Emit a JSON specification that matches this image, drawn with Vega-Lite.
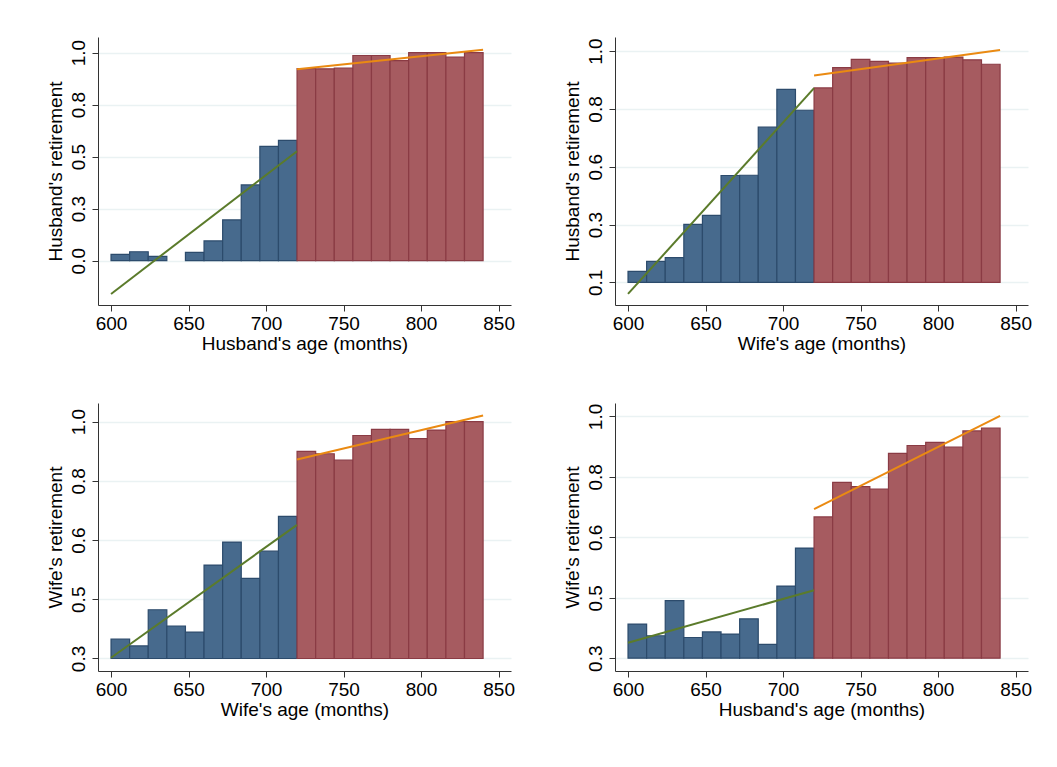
{
  "$schema": "https://vega.github.io/schema/vega-lite/v6.json",
  "background": "white",
  "padding": {"left": 46, "top": 37, "right": 10, "bottom": 10},
  "datasets": {
    "bars": [
      {"panel": 1, "age": 600, "end": 612, "val": 0.030, "side": "before"},
      {"panel": 1, "age": 612, "end": 624, "val": 0.043, "side": "before"},
      {"panel": 1, "age": 624, "end": 636, "val": 0.021, "side": "before"},
      {"panel": 1, "age": 648, "end": 660, "val": 0.040, "side": "before"},
      {"panel": 1, "age": 660, "end": 672, "val": 0.095, "side": "before"},
      {"panel": 1, "age": 672, "end": 684, "val": 0.196, "side": "before"},
      {"panel": 1, "age": 684, "end": 696, "val": 0.364, "side": "before"},
      {"panel": 1, "age": 696, "end": 708, "val": 0.549, "side": "before"},
      {"panel": 1, "age": 708, "end": 720, "val": 0.578, "side": "before"},
      {"panel": 1, "age": 720, "end": 732, "val": 0.923, "side": "after"},
      {"panel": 1, "age": 732, "end": 744, "val": 0.922, "side": "after"},
      {"panel": 1, "age": 744, "end": 756, "val": 0.925, "side": "after"},
      {"panel": 1, "age": 756, "end": 768, "val": 0.986, "side": "after"},
      {"panel": 1, "age": 768, "end": 780, "val": 0.986, "side": "after"},
      {"panel": 1, "age": 780, "end": 792, "val": 0.961, "side": "after"},
      {"panel": 1, "age": 792, "end": 804, "val": 1.0, "side": "after"},
      {"panel": 1, "age": 804, "end": 816, "val": 1.0, "side": "after"},
      {"panel": 1, "age": 816, "end": 828, "val": 0.979, "side": "after"},
      {"panel": 1, "age": 828, "end": 840, "val": 1.0, "side": "after"},

      {"panel": 2, "age": 600, "end": 612, "val": 0.143, "side": "before"},
      {"panel": 2, "age": 612, "end": 624, "val": 0.182, "side": "before"},
      {"panel": 2, "age": 624, "end": 636, "val": 0.196, "side": "before"},
      {"panel": 2, "age": 636, "end": 648, "val": 0.326, "side": "before"},
      {"panel": 2, "age": 648, "end": 660, "val": 0.361, "side": "before"},
      {"panel": 2, "age": 660, "end": 672, "val": 0.516, "side": "before"},
      {"panel": 2, "age": 672, "end": 684, "val": 0.517, "side": "before"},
      {"panel": 2, "age": 684, "end": 696, "val": 0.704, "side": "before"},
      {"panel": 2, "age": 696, "end": 708, "val": 0.851, "side": "before"},
      {"panel": 2, "age": 708, "end": 720, "val": 0.770, "side": "before"},
      {"panel": 2, "age": 720, "end": 732, "val": 0.857, "side": "after"},
      {"panel": 2, "age": 732, "end": 744, "val": 0.936, "side": "after"},
      {"panel": 2, "age": 744, "end": 756, "val": 0.968, "side": "after"},
      {"panel": 2, "age": 756, "end": 768, "val": 0.960, "side": "after"},
      {"panel": 2, "age": 768, "end": 780, "val": 0.953, "side": "after"},
      {"panel": 2, "age": 780, "end": 792, "val": 0.975, "side": "after"},
      {"panel": 2, "age": 792, "end": 804, "val": 0.975, "side": "after"},
      {"panel": 2, "age": 804, "end": 816, "val": 0.977, "side": "after"},
      {"panel": 2, "age": 816, "end": 828, "val": 0.966, "side": "after"},
      {"panel": 2, "age": 828, "end": 840, "val": 0.949, "side": "after"},

      {"panel": 3, "age": 600, "end": 612, "val": 0.357, "side": "before"},
      {"panel": 3, "age": 612, "end": 624, "val": 0.337, "side": "before"},
      {"panel": 3, "age": 624, "end": 636, "val": 0.444, "side": "before"},
      {"panel": 3, "age": 636, "end": 648, "val": 0.396, "side": "before"},
      {"panel": 3, "age": 648, "end": 660, "val": 0.378, "side": "before"},
      {"panel": 3, "age": 660, "end": 672, "val": 0.576, "side": "before"},
      {"panel": 3, "age": 672, "end": 684, "val": 0.644, "side": "before"},
      {"panel": 3, "age": 684, "end": 696, "val": 0.537, "side": "before"},
      {"panel": 3, "age": 696, "end": 708, "val": 0.617, "side": "before"},
      {"panel": 3, "age": 708, "end": 720, "val": 0.720, "side": "before"},
      {"panel": 3, "age": 720, "end": 732, "val": 0.912, "side": "after"},
      {"panel": 3, "age": 732, "end": 744, "val": 0.905, "side": "after"},
      {"panel": 3, "age": 744, "end": 756, "val": 0.886, "side": "after"},
      {"panel": 3, "age": 756, "end": 768, "val": 0.959, "side": "after"},
      {"panel": 3, "age": 768, "end": 780, "val": 0.977, "side": "after"},
      {"panel": 3, "age": 780, "end": 792, "val": 0.977, "side": "after"},
      {"panel": 3, "age": 792, "end": 804, "val": 0.950, "side": "after"},
      {"panel": 3, "age": 804, "end": 816, "val": 0.975, "side": "after"},
      {"panel": 3, "age": 816, "end": 828, "val": 1.0, "side": "after"},
      {"panel": 3, "age": 828, "end": 840, "val": 1.0, "side": "after"},

      {"panel": 4, "age": 600, "end": 612, "val": 0.399, "side": "before"},
      {"panel": 4, "age": 612, "end": 624, "val": 0.365, "side": "before"},
      {"panel": 4, "age": 624, "end": 636, "val": 0.467, "side": "before"},
      {"panel": 4, "age": 636, "end": 648, "val": 0.360, "side": "before"},
      {"panel": 4, "age": 648, "end": 660, "val": 0.376, "side": "before"},
      {"panel": 4, "age": 660, "end": 672, "val": 0.370, "side": "before"},
      {"panel": 4, "age": 672, "end": 684, "val": 0.414, "side": "before"},
      {"panel": 4, "age": 684, "end": 696, "val": 0.340, "side": "before"},
      {"panel": 4, "age": 696, "end": 708, "val": 0.509, "side": "before"},
      {"panel": 4, "age": 708, "end": 720, "val": 0.619, "side": "before"},
      {"panel": 4, "age": 720, "end": 732, "val": 0.709, "side": "after"},
      {"panel": 4, "age": 732, "end": 744, "val": 0.809, "side": "after"},
      {"panel": 4, "age": 744, "end": 756, "val": 0.797, "side": "after"},
      {"panel": 4, "age": 756, "end": 768, "val": 0.790, "side": "after"},
      {"panel": 4, "age": 768, "end": 780, "val": 0.893, "side": "after"},
      {"panel": 4, "age": 780, "end": 792, "val": 0.916, "side": "after"},
      {"panel": 4, "age": 792, "end": 804, "val": 0.925, "side": "after"},
      {"panel": 4, "age": 804, "end": 816, "val": 0.911, "side": "after"},
      {"panel": 4, "age": 816, "end": 828, "val": 0.958, "side": "after"},
      {"panel": 4, "age": 828, "end": 840, "val": 0.966, "side": "after"}
    ],
    "fits": [
      {"panel": 1, "side": "before", "age": 600, "val": -0.16},
      {"panel": 1, "side": "before", "age": 720, "val": 0.526},
      {"panel": 1, "side": "after", "age": 720, "val": 0.920},
      {"panel": 1, "side": "after", "age": 840, "val": 1.014},
      {"panel": 2, "side": "before", "age": 600, "val": 0.055},
      {"panel": 2, "side": "before", "age": 720, "val": 0.856},
      {"panel": 2, "side": "after", "age": 720, "val": 0.905},
      {"panel": 2, "side": "after", "age": 840, "val": 1.004},
      {"panel": 3, "side": "before", "age": 600, "val": 0.302},
      {"panel": 3, "side": "before", "age": 720, "val": 0.695},
      {"panel": 3, "side": "after", "age": 720, "val": 0.888},
      {"panel": 3, "side": "after", "age": 840, "val": 1.018},
      {"panel": 4, "side": "before", "age": 600, "val": 0.345},
      {"panel": 4, "side": "before", "age": 720, "val": 0.497},
      {"panel": 4, "side": "after", "age": 720, "val": 0.732},
      {"panel": 4, "side": "after", "age": 840, "val": 1.002}
    ]
  },
  "config": {
    "font": "Liberation Sans",
    "view": {"stroke": null},
    "axis": {
      "labelFont": "Liberation Sans",
      "titleFont": "Liberation Sans",
      "labelFontSize": 19,
      "titleFontSize": 19,
      "titleFontWeight": "normal",
      "labelColor": "#000000",
      "titleColor": "#000000",
      "domainColor": "#333333",
      "tickColor": "#333333",
      "tickSize": 6,
      "gridColor": "#EAF2F3",
      "gridWidth": 1.5
    },
    "axisX": {"grid": false, "titlePadding": 1, "labelPadding": 3},
    "axisY": {"labelAngle": -90, "labelAlign": "center", "labelBaseline": "bottom", "labelPadding": 4, "titlePadding": 4}
  },
  "spacing": 50,
  "vconcat": [
    {
      "spacing": 48,
      "hconcat": [
        {
          "width": 413,
          "height": 268,
          "layer": [
            {
              "data": {"name": "bars"},
              "transform": [{"filter": "datum.panel == 1"}],
              "mark": {"type": "bar", "strokeWidth": 1.2},
              "encoding": {
                "x": {"field": "age", "type": "quantitative", "scale": {"domain": [591.6, 858], "nice": false, "zero": false}, "axis": {"values": [600, 650, 700, 750, 800, 850]}, "title": "Husband's age (months)"},
                "x2": {"field": "end"},
                "y": {"field": "val", "type": "quantitative", "scale": {"domain": [-0.213, 1.075], "nice": false, "zero": false}, "axis": {"values": [0, 0.25, 0.5, 0.75, 1], "format": ".1f"}, "title": "Husband's retirement"},
                "y2": {"datum": 0},
                "color": {"field": "side", "type": "nominal", "scale": {"domain": ["before", "after"], "range": ["#476A8D", "#A65B60"]}, "legend": null},
                "stroke": {"field": "side", "type": "nominal", "scale": {"domain": ["before", "after"], "range": ["#2C4B6C", "#8A3B44"]}, "legend": null}
              }
            },
            {
              "data": {"name": "fits"},
              "transform": [{"filter": "datum.panel == 1"}],
              "mark": {"type": "line", "strokeWidth": 2},
              "encoding": {
                "x": {"field": "age", "type": "quantitative"},
                "y": {"field": "val", "type": "quantitative"},
                "detail": {"field": "side"},
                "color": {"field": "side", "type": "nominal", "scale": {"domain": ["before", "after"], "range": ["#5B7B2B", "#EA8A12"]}, "legend": null}
              }
            }
          ],
          "resolve": {"scale": {"color": "independent"}}
        },
        {
          "width": 413,
          "height": 268,
          "layer": [
            {
              "data": {"name": "bars"},
              "transform": [{"filter": "datum.panel == 2"}],
              "mark": {"type": "bar", "strokeWidth": 1.2},
              "encoding": {
                "x": {"field": "age", "type": "quantitative", "scale": {"domain": [591.6, 858], "nice": false, "zero": false}, "axis": {"values": [600, 650, 700, 750, 800, 850]}, "title": "Wife's age (months)"},
                "x2": {"field": "end"},
                "y": {"field": "val", "type": "quantitative", "scale": {"domain": [0.012, 1.055], "nice": false, "zero": false}, "axis": {"values": [0.1, 0.325, 0.55, 0.775, 1], "format": ".1f"}, "title": "Husband's retirement"},
                "y2": {"datum": 0.1},
                "color": {"field": "side", "type": "nominal", "scale": {"domain": ["before", "after"], "range": ["#476A8D", "#A65B60"]}, "legend": null},
                "stroke": {"field": "side", "type": "nominal", "scale": {"domain": ["before", "after"], "range": ["#2C4B6C", "#8A3B44"]}, "legend": null}
              }
            },
            {
              "data": {"name": "fits"},
              "transform": [{"filter": "datum.panel == 2"}],
              "mark": {"type": "line", "strokeWidth": 2},
              "encoding": {
                "x": {"field": "age", "type": "quantitative"},
                "y": {"field": "val", "type": "quantitative"},
                "detail": {"field": "side"},
                "color": {"field": "side", "type": "nominal", "scale": {"domain": ["before", "after"], "range": ["#5B7B2B", "#EA8A12"]}, "legend": null}
              }
            }
          ],
          "resolve": {"scale": {"color": "independent"}}
        }
      ]
    },
    {
      "spacing": 48,
      "hconcat": [
        {
          "width": 413,
          "height": 268,
          "layer": [
            {
              "data": {"name": "bars"},
              "transform": [{"filter": "datum.panel == 3"}],
              "mark": {"type": "bar", "strokeWidth": 1.2},
              "encoding": {
                "x": {"field": "age", "type": "quantitative", "scale": {"domain": [591.6, 858], "nice": false, "zero": false}, "axis": {"values": [600, 650, 700, 750, 800, 850]}, "title": "Wife's age (months)"},
                "x2": {"field": "end"},
                "y": {"field": "val", "type": "quantitative", "scale": {"domain": [0.263, 1.055], "nice": false, "zero": false}, "axis": {"values": [0.3, 0.475, 0.65, 0.825, 1], "labelExpr": "format(datum.value - 0.001, '.1f')"}, "title": "Wife's retirement"},
                "y2": {"datum": 0.3},
                "color": {"field": "side", "type": "nominal", "scale": {"domain": ["before", "after"], "range": ["#476A8D", "#A65B60"]}, "legend": null},
                "stroke": {"field": "side", "type": "nominal", "scale": {"domain": ["before", "after"], "range": ["#2C4B6C", "#8A3B44"]}, "legend": null}
              }
            },
            {
              "data": {"name": "fits"},
              "transform": [{"filter": "datum.panel == 3"}],
              "mark": {"type": "line", "strokeWidth": 2},
              "encoding": {
                "x": {"field": "age", "type": "quantitative"},
                "y": {"field": "val", "type": "quantitative"},
                "detail": {"field": "side"},
                "color": {"field": "side", "type": "nominal", "scale": {"domain": ["before", "after"], "range": ["#5B7B2B", "#EA8A12"]}, "legend": null}
              }
            }
          ],
          "resolve": {"scale": {"color": "independent"}}
        },
        {
          "width": 413,
          "height": 268,
          "layer": [
            {
              "data": {"name": "bars"},
              "transform": [{"filter": "datum.panel == 4"}],
              "mark": {"type": "bar", "strokeWidth": 1.2},
              "encoding": {
                "x": {"field": "age", "type": "quantitative", "scale": {"domain": [591.6, 858], "nice": false, "zero": false}, "axis": {"values": [600, 650, 700, 750, 800, 850]}, "title": "Husband's age (months)"},
                "x2": {"field": "end"},
                "y": {"field": "val", "type": "quantitative", "scale": {"domain": [0.263, 1.039], "nice": false, "zero": false}, "axis": {"values": [0.3, 0.475, 0.65, 0.825, 1], "labelExpr": "format(datum.value - 0.001, '.1f')"}, "title": "Wife's retirement"},
                "y2": {"datum": 0.3},
                "color": {"field": "side", "type": "nominal", "scale": {"domain": ["before", "after"], "range": ["#476A8D", "#A65B60"]}, "legend": null},
                "stroke": {"field": "side", "type": "nominal", "scale": {"domain": ["before", "after"], "range": ["#2C4B6C", "#8A3B44"]}, "legend": null}
              }
            },
            {
              "data": {"name": "fits"},
              "transform": [{"filter": "datum.panel == 4"}],
              "mark": {"type": "line", "strokeWidth": 2},
              "encoding": {
                "x": {"field": "age", "type": "quantitative"},
                "y": {"field": "val", "type": "quantitative"},
                "detail": {"field": "side"},
                "color": {"field": "side", "type": "nominal", "scale": {"domain": ["before", "after"], "range": ["#5B7B2B", "#EA8A12"]}, "legend": null}
              }
            }
          ],
          "resolve": {"scale": {"color": "independent"}}
        }
      ]
    }
  ]
}
